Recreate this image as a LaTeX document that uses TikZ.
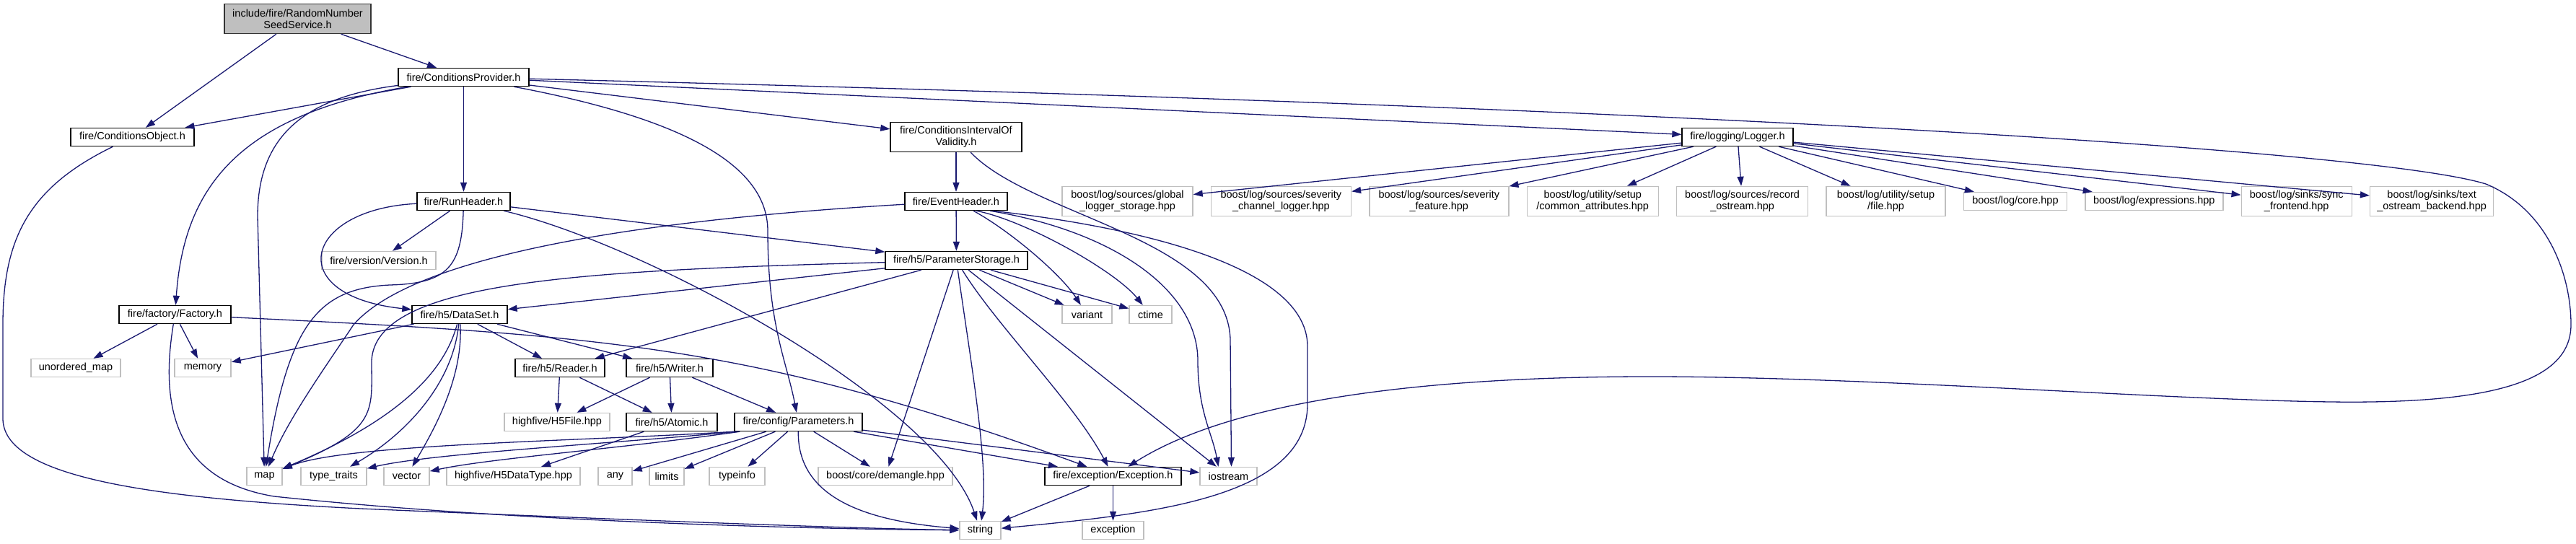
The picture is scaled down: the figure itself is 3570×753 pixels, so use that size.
\documentclass[tikz,border=0pt]{standalone}
\usepackage{fontspec}
\setmainfont{Liberation Sans}
\usetikzlibrary{arrows.meta,positioning}
\definecolor{edgeblue}{HTML}{191970}
\definecolor{rootgray}{HTML}{BFBFBF}
\definecolor{extgray}{HTML}{BFBFBF}

\begin{document}
\begin{tikzpicture}[
    x=1pt, y=-1pt,
    >={Triangle[length=13pt,width=9pt]},
    header/.style={
        draw=black,
        line width=1.4pt,
        fill=white,
        align=center,
        inner sep=0pt,
        minimum height=25pt,
        font=\fontsize{14.5}{16}\selectfont
    },
    twoline/.style={minimum height=41pt},
    sysheader/.style={header, draw=extgray},
    root/.style={header, fill=rootgray, draw=black!80},
    incl/.style={->, edgeblue, line width=1.3pt}
]
\useasboundingbox (0,0) rectangle (3570,753);

% included file and its direct includes
\node[root, twoline, minimum width=203pt] (rnss) at (412.5,26) {include/fire/RandomNumber\\SeedService.h};
\node[header, minimum width=181pt] (cp) at (642.5,107) {fire/ConditionsProvider.h};
\node[header, minimum width=171pt] (cobj) at (183.5,190) {fire/ConditionsObject.h};
\node[header, twoline, minimum width=182pt] (ciov) at (1325,190) {fire/ConditionsIntervalOf\\Validity.h};
\node[header, minimum width=154pt] (logger) at (2408,190) {fire/logging/Logger.h};

\node[header, minimum width=129pt] (runheader) at (642.5,279) {fire/RunHeader.h};
\node[header, minimum width=142pt] (eventheader) at (1325,279) {fire/EventHeader.h};

% boost headers of the logger
\node[sysheader, twoline, minimum width=181pt] (bglobal) at (1562.5,279) {boost/log/sources/global\\\_logger\_storage.hpp};
\node[sysheader, twoline, minimum width=194pt, right=24pt of bglobal] (bchannel) {boost/log/sources/severity\\\_channel\_logger.hpp};
\node[sysheader, twoline, minimum width=193pt, right=24pt of bchannel] (bfeature) {boost/log/sources/severity\\\_feature.hpp};
\node[sysheader, twoline, minimum width=182pt, right=24pt of bfeature] (bcommon) {boost/log/utility/setup\\/common\_attributes.hpp};
\node[sysheader, twoline, minimum width=182pt, right=24pt of bcommon] (brecord) {boost/log/sources/record\\\_ostream.hpp};
\node[sysheader, twoline, minimum width=165pt, right=24pt of brecord] (bfile) {boost/log/utility/setup\\/file.hpp};
\node[sysheader, minimum width=143pt, right=24pt of bfile] (bcore) {boost/log/core.hpp};
\node[sysheader, minimum width=191pt, right=24pt of bcore] (bexpr) {boost/log/expressions.hpp};
\node[sysheader, twoline, minimum width=153pt, right=24pt of bexpr] (bsync) {boost/log/sinks/sync\\\_frontend.hpp};
\node[sysheader, twoline, minimum width=171pt, right=24pt of bsync] (btext) {boost/log/sinks/text\\\_ostream\_backend.hpp};

\node[sysheader, minimum width=158pt] (version) at (525,361) {fire/version/Version.h};
\node[header, minimum width=197pt] (pstorage) at (1325.5,361) {fire/h5/ParameterStorage.h};

\node[header, minimum width=155pt] (factory) at (242.5,436) {fire/factory/Factory.h};
\node[header, minimum width=132pt] (dataset) at (637,436) {fire/h5/DataSet.h};
\node[sysheader, minimum width=69pt] (variant) at (1506.5,436) {variant};
\node[sysheader, minimum width=59pt] (ctime) at (1594.5,436) {ctime};

\node[sysheader, minimum width=124pt] (umap) at (105,510) {unordered\_map};
\node[sysheader, minimum width=78pt] (memory) at (281,510) {memory};
\node[header, minimum width=124pt] (reader) at (776,510) {fire/h5/Reader.h};
\node[header, minimum width=120pt] (writer) at (928,510) {fire/h5/Writer.h};

\node[sysheader, minimum width=146pt] (h5file) at (772,585) {highfive/H5File.hpp};
\node[header, minimum width=126pt] (atomic) at (931,585) {fire/h5/Atomic.h};
\node[header, minimum width=177pt] (params) at (1106.5,585) {fire/config/Parameters.h};

% standard and third-party headers
\node[sysheader, minimum width=49pt] (map) at (366.5,660) {map};
\node[sysheader, minimum width=91pt] (ttraits) at (462.5,660) {type\_traits};
\node[sysheader, minimum width=63pt] (vector) at (563.5,660) {vector};
\node[sysheader, minimum width=185pt] (h5dtype) at (711.5,660) {highfive/H5DataType.hpp};
\node[sysheader, minimum width=47pt] (any) at (852.5,660) {any};
\node[sysheader, minimum width=48pt] (limits) at (924,660) {limits};
\node[sysheader, minimum width=77pt] (typeinfo) at (1021.5,660) {typeinfo};
\node[sysheader, minimum width=186pt] (demangle) at (1227,660) {boost/core/demangle.hpp};
\node[header, minimum width=189pt] (exc) at (1542.5,660) {fire/exception/Exception.h};
\node[sysheader, minimum width=79pt] (iostream) at (1702.5,660) {iostream};

\node[sysheader, minimum width=57pt] (string) at (1358.5,735) {string};
\node[sysheader, minimum width=85pt] (exception) at (1542.5,735) {exception};

% root
\draw[incl] (rnss) -- (cobj);
\draw[incl] (rnss) -- (cp);

% ConditionsProvider
\draw[incl] (cp) -- (cobj);
\draw[incl] (cp) .. controls (330,160) and (255,260) .. (factory);
\draw[incl] (cp) .. controls (420,135) and (357,190) .. (357,300) -- (map);
\draw[incl] (cp) -- (runheader);
\draw[incl] (cp) .. controls (950,165) and (1064,230) .. (1064,320) .. controls (1064,450) and (1090,500) .. (params);
\draw[incl] (cp) -- (ciov);
\draw[incl] (cp) -- (logger);
\draw[incl] (cp) .. controls (2400,150) and (3300,210) .. (3445,255) .. controls (3530,290) and (3563,380) .. (3563,450) .. controls (3563,530) and (3450,560) .. (3230,557) .. controls (3000,554) and (2600,523) .. (2300,522) .. controls (1950,521) and (1700,560) .. (exc);

% ConditionsObject and Factory
\draw[incl] (cobj) .. controls (40,260) and (4,330) .. (4,450) -- (4,580) .. controls (4,660) and (200,690) .. (500,705) .. controls (900,722) and (1200,733) .. (string);
\draw[incl] (factory) -- (umap);
\draw[incl] (factory) -- (memory);
\draw[incl] (factory) .. controls (222,560) and (240,665) .. (380,688) .. controls (700,722) and (1100,733) .. (string);
\draw[incl] (factory) .. controls (850,465) and (1050,480) .. (exc);

% RunHeader
\draw[incl] (runheader) .. controls (420,290) and (390,410) .. (dataset);
\draw[incl] (runheader) -- (version);
\draw[incl] (runheader) .. controls (640,370) and (620,393) .. (540,395) .. controls (440,400) and (400,450) .. (map);
\draw[incl] (runheader) .. controls (900,340) and (1300,560) .. (string);
\draw[incl] (runheader) -- (pstorage);

% ConditionsIntervalOfValidity and EventHeader
\draw[incl] (ciov) -- (eventheader);
\draw[incl] (ciov) .. controls (1430,300) and (1700,330) .. (1705,470) -- ([xshift=4pt]iostream.north);
\draw[incl] (eventheader) .. controls (800,310) and (560,370) .. (490,450) .. controls (450,510) and (400,580) .. (map);
\draw[incl] (eventheader) -- (pstorage);
\draw[incl] ([xshift=24pt]eventheader.south) .. controls (1400,320) and (1470,380) .. (variant);
\draw[incl] ([xshift=28pt]eventheader.south) .. controls (1420,305) and (1545,375) .. (ctime);
\draw[incl] ([xshift=47pt]eventheader.south) .. controls (1540,320) and (1660,400) .. (1660,500) .. controls (1660,570) and (1680,600) .. ([xshift=-14pt]iostream.north);
\draw[incl] ([xshift=51pt]eventheader.south) .. controls (1620,320) and (1812,380) .. (1812,480) -- (1812,560) .. controls (1812,690) and (1600,712) .. (string);

% ParameterStorage
\draw[incl] (pstorage) -- (dataset);
\draw[incl] (pstorage) -- (reader);
\draw[incl] (pstorage) .. controls (800,375) and (520,390) .. (515,500) .. controls (515,570) and (525,595) .. (map);
\draw[incl] (pstorage) -- (variant);
\draw[incl] (pstorage) -- (ctime);
\draw[incl] (pstorage) -- (demangle);
\draw[incl] (pstorage) .. controls (1345,500) and (1370,640) .. (string);
\draw[incl] (pstorage) .. controls (1380,450) and (1490,560) .. (exc);
\draw[incl] (pstorage) -- (iostream);

% DataSet
\draw[incl] (dataset) -- (memory);
\draw[incl] (dataset) .. controls (615,520) and (545,585) .. (map);
\draw[incl] (dataset) .. controls (628,530) and (565,600) .. (ttraits);
\draw[incl] (dataset) .. controls (642,520) and (605,590) .. (vector);
\draw[incl] (dataset) -- (reader);
\draw[incl] (dataset) -- (writer);

% Reader, Writer, Atomic
\draw[incl] (reader) -- (h5file);
\draw[incl] (reader) -- (atomic);
\draw[incl] (writer) -- (h5file);
\draw[incl] (writer) -- (atomic);
\draw[incl] (writer) -- (params);
\draw[incl] (atomic) -- (h5dtype);

% Parameters
\draw[incl] (params.south west) .. controls (800,612) and (480,615) .. (map);
\draw[incl] ([xshift=4pt]params.south west) .. controls (850,615) and (600,628) .. (ttraits);
\draw[incl] ([xshift=8pt]params.south west) .. controls (860,622) and (680,635) .. (vector);
\draw[incl] (params) -- (any);
\draw[incl] (params) -- (limits);
\draw[incl] (params) -- (typeinfo);
\draw[incl] (params) -- (demangle);
\draw[incl] (params) .. controls (1105,690) and (1200,722) .. (string);
\draw[incl] (params) -- (exc);
\draw[incl] (params) -- (iostream);

% Exception
\draw[incl] (exc) -- (string);
\draw[incl] (exc) -- (exception);

% Logger
\foreach \leaf in {bglobal,bchannel,bfeature,bcommon,brecord,bfile,bcore,bexpr,bsync,btext}
    \draw[incl] (logger) -- (\leaf);

\end{tikzpicture}
\end{document}
